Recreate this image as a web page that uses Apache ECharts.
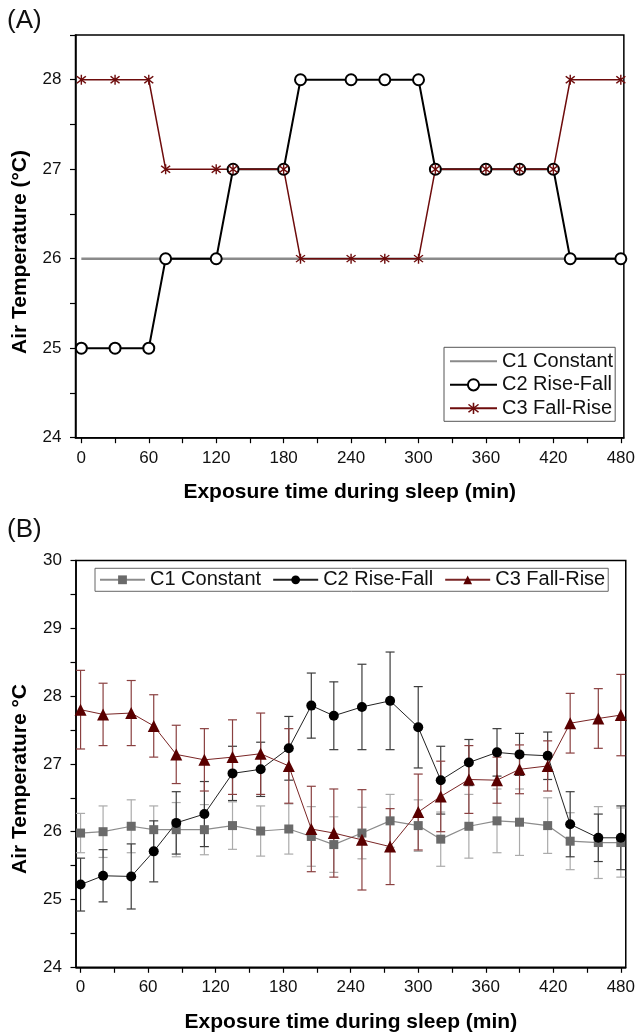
<!DOCTYPE html>
<html>
<head>
<meta charset="utf-8">
<script src="https://cdn.jsdelivr.net/npm/echarts@6/dist/echarts.min.js"></script>
<style>
html,body{margin:0;padding:0;background:#fff;}
#chart{width:638px;height:1035px;}
</style>
</head>
<body>
<div id="chart"></div>
<script>
// ---------- Panel A data (set-points) ----------
const timeA = [0, 30, 60, 75, 120, 135, 180, 195, 240, 270, 300, 315, 360, 390, 420, 435, 480];
const c1A = [26, 26, 26, 26, 26, 26, 26, 26, 26, 26, 26, 26, 26, 26, 26, 26, 26];
const c2A = [25, 25, 25, 26, 26, 27, 27, 28, 28, 28, 28, 27, 27, 27, 27, 26, 26];
const c3A = [28, 28, 28, 27, 27, 27, 27, 26, 26, 26, 26, 27, 27, 27, 27, 28, 28];

// ---------- Panel B data (measured mean and SD) ----------
const timeB = [0, 20, 45, 65, 85, 110, 135, 160, 185, 205, 225, 250, 275, 300, 320, 345, 370, 390, 415, 435, 460, 480];
const c1B = [25.98, 26.00, 26.08, 26.03, 26.03, 26.03, 26.09, 26.01, 26.04, 25.93, 25.81, 25.98, 26.16, 26.09, 25.89, 26.08, 26.16, 26.14, 26.09, 25.86, 25.84, 25.84];
const c1Err = [0.29, 0.38, 0.39, 0.35, 0.40, 0.37, 0.35, 0.37, 0.37, 0.44, 0.41, 0.38, 0.39, 0.38, 0.40, 0.47, 0.47, 0.49, 0.41, 0.42, 0.53, 0.51];
const c2B = [25.22, 25.35, 25.34, 25.71, 26.13, 26.26, 26.86, 26.92, 27.23, 27.86, 27.71, 27.84, 27.93, 27.54, 26.76, 27.02, 27.17, 27.14, 27.12, 26.11, 25.91, 25.91];
const c2Err = [0.39, 0.385, 0.48, 0.45, 0.46, 0.48, 0.40, 0.40, 0.47, 0.48, 0.50, 0.63, 0.72, 0.60, 0.50, 0.34, 0.35, 0.31, 0.35, 0.48, 0.35, 0.47];
const c3B = [27.80, 27.73, 27.75, 27.56, 27.14, 27.06, 27.10, 27.15, 26.97, 26.04, 25.98, 25.88, 25.78, 26.29, 26.52, 26.77, 26.76, 26.92, 26.97, 27.60, 27.67, 27.72];
const c3Err = [0.58, 0.46, 0.48, 0.46, 0.43, 0.46, 0.55, 0.60, 0.55, 0.63, 0.65, 0.74, 0.56, 0.56, 0.52, 0.50, 0.34, 0.36, 0.37, 0.44, 0.44, 0.60];

// ---------- ticks / labels ----------
const xTicks = [0, 30, 60, 90, 120, 150, 180, 210, 240, 270, 300, 330, 360, 390, 420, 450, 480];
const xLabels = [0, 60, 120, 180, 240, 300, 360, 420, 480];
const yTicksA = [24, 24.5, 25, 25.5, 26, 26.5, 27, 27.5, 28, 28.5];
const yLabelsA = [24, 25, 26, 27, 28];
const yTicksB = [24, 24.5, 25, 25.5, 26, 26.5, 27, 27.5, 28, 28.5, 29, 29.5, 30];
const yLabelsB = [24, 25, 26, 27, 28, 29, 30];

const seriesNames = ['C1 Constant', 'C2 Rise-Fall', 'C3 Fall-Rise'];
const bKeys = ['b1', 'b2', 'b3'];

const FONT = '"Liberation Sans", Arial, Helvetica, sans-serif';
const RED = '#6e0c0c';
const ASTERISK = 'path://M4.45 0 L5.55 0 L5.55 10 L4.45 10 Z M1.9 1.1 L8.9 8.1 L8.1 8.9 L1.1 1.9 Z M8.9 1.9 L1.9 8.9 L1.1 8.1 L8.1 1.1 Z';

function zip(xs, ys) { return xs.map((x, i) => [x, ys[i]]); }
function errData(xs, ys, es) { return xs.map((x, i) => [x, ys[i] - es[i], ys[i] + es[i]]); }
function errRenderer(color) {
  return function (params, api) {
    const x = api.value(0), lo = api.value(1), hi = api.value(2);
    const p1 = api.coord([x, hi]), p2 = api.coord([x, lo]);
    const hw = 4.5;
    const style = { stroke: color, lineWidth: 1.2, fill: null };
    return {
      type: 'group', children: [
        { type: 'line', shape: { x1: p1[0], y1: p1[1], x2: p2[0], y2: p2[1] }, style: style },
        { type: 'line', shape: { x1: p1[0] - hw, y1: p1[1], x2: p1[0] + hw, y2: p1[1] }, style: style },
        { type: 'line', shape: { x1: p2[0] - hw, y1: p2[1], x2: p2[0] + hw, y2: p2[1] }, style: style }
      ]
    };
  };
}

function xAxisCfg(grid, min, max) {
  return {
    type: 'value', gridIndex: grid, min: min, max: max,
    axisLine: { show: true, onZero: false, lineStyle: { color: '#000', width: 1.5 } },
    axisTick: { show: true, length: 5.5, customValues: xTicks, lineStyle: { color: '#000', width: 1.2 } },
    axisLabel: { customValues: xLabels, fontSize: 17, color: '#111', margin: 12, fontFamily: FONT },
    splitLine: { show: false },
    name: 'Exposure time during sleep (min)', nameLocation: 'middle', nameGap: 44,
    nameTextStyle: { fontSize: 21, fontWeight: 'bold', color: '#000', fontFamily: FONT }
  };
}
function yAxisCfg(grid, min, max, ticks, labels) {
  return {
    type: 'value', gridIndex: grid, min: min, max: max,
    axisLine: { show: true, onZero: false, lineStyle: { color: '#000', width: 1.5 } },
    axisTick: { show: true, length: 5.5, customValues: ticks, lineStyle: { color: '#000', width: 1.2 } },
    axisLabel: { customValues: labels, fontSize: 17, color: '#111', margin: 14, fontFamily: FONT },
    splitLine: { show: false }
  };
}

const chart = echarts.init(document.getElementById('chart'), null, { renderer: 'canvas' });
const option = {
  backgroundColor: '#fff',
  animation: false,
  textStyle: { fontFamily: FONT },
  grid: [
    { left: 75.5, top: 35, width: 550, height: 402.7, show: true, borderColor: '#000', borderWidth: 1.5, backgroundColor: 'transparent' },
    { left: 76, top: 560.5, width: 554, height: 406.8, show: true, borderColor: '#000', borderWidth: 1.5, backgroundColor: 'transparent' }
  ],
  xAxis: [xAxisCfg(0, -5.2, 482.7), xAxisCfg(1, -4.06, 484.4)],
  yAxis: [yAxisCfg(0, 24, 28.5, yTicksA, yLabelsA), yAxisCfg(1, 24, 30, yTicksB, yLabelsB)],
  legend: [
    {
      data: [{ name: seriesNames[0], itemStyle: { opacity: 0 } }, seriesNames[1], seriesNames[2]],
      orient: 'vertical', left: 444, top: 347.3,
      padding: [4, 2, 3, 5], itemGap: 3.5, itemWidth: 47, itemHeight: 14,
      borderColor: '#555', borderWidth: 1, backgroundColor: '#fff',
      textStyle: { fontSize: 20, lineHeight: 20, color: '#111', fontFamily: FONT },
      selectedMode: false
    },
    {
      data: bKeys, orient: 'horizontal', left: 95, top: 568.3,
      padding: [1.5, 3, 1.5, 4], itemGap: 11, itemWidth: 45, itemHeight: 11,
      borderColor: '#666', borderWidth: 1, backgroundColor: '#fff',
      formatter: function (n) { return seriesNames[bKeys.indexOf(n)]; },
      textStyle: { fontSize: 20, lineHeight: 20, color: '#111', fontFamily: FONT },
      selectedMode: false
    }
  ],
  graphic: [
    { type: 'text', left: 7, top: 8, style: { text: '(A)', fontSize: 26, fill: '#111', fontFamily: FONT } },
    { type: 'text', left: 7, top: 517, style: { text: '(B)', fontSize: 26, fill: '#111', fontFamily: FONT } },
    { type: 'text', x: 20, y: 252, rotation: Math.PI / 2,
      style: { text: 'Air Temperature (°C)', fontSize: 21, fontWeight: 'bold', fill: '#000', fontFamily: FONT, textAlign: 'center', textVerticalAlign: 'middle' } },
    { type: 'text', x: 20, y: 779, rotation: Math.PI / 2,
      style: { text: 'Air Temperature °C', fontSize: 21, fontWeight: 'bold', fill: '#000', fontFamily: FONT, textAlign: 'center', textVerticalAlign: 'middle' } }
  ],
  series: [
    // Panel A
    { name: seriesNames[0], type: 'line', xAxisIndex: 0, yAxisIndex: 0, data: zip(timeA, c1A),
      showSymbol: false, symbol: 'none', lineStyle: { color: '#8a8a8a', width: 2.5 }, itemStyle: { color: '#8a8a8a' } },
    { name: seriesNames[1], type: 'line', xAxisIndex: 0, yAxisIndex: 0, data: zip(timeA, c2A),
      symbol: 'circle', symbolSize: 11, lineStyle: { color: '#000', width: 2 },
      itemStyle: { color: '#fff', borderColor: '#000', borderWidth: 2 } },
    { name: seriesNames[2], type: 'line', xAxisIndex: 0, yAxisIndex: 0, data: zip(timeA, c3A),
      symbol: ASTERISK, symbolSize: 10, lineStyle: { color: RED, width: 1.5 },
      itemStyle: { color: RED } },
    // Panel B error bars + lines
    { name: 'e1', type: 'custom', xAxisIndex: 1, yAxisIndex: 1, data: errData(timeB, c1B, c1Err),
      renderItem: errRenderer('#ababab'), encode: { x: 0, y: [1, 2] }, silent: true },
    { name: bKeys[0], type: 'line', xAxisIndex: 1, yAxisIndex: 1, data: zip(timeB, c1B),
      symbol: 'rect', symbolSize: 9, lineStyle: { color: '#8c8c8c', width: 1.2 }, itemStyle: { color: '#6a6a6a' } },
    { name: 'e2', type: 'custom', xAxisIndex: 1, yAxisIndex: 1, data: errData(timeB, c2B, c2Err),
      renderItem: errRenderer('#3c3c3c'), encode: { x: 0, y: [1, 2] }, silent: true },
    { name: bKeys[1], type: 'line', xAxisIndex: 1, yAxisIndex: 1, data: zip(timeB, c2B),
      symbol: 'circle', symbolSize: 10, lineStyle: { color: '#222', width: 1 }, itemStyle: { color: '#000' } },
    { name: 'e3', type: 'custom', xAxisIndex: 1, yAxisIndex: 1, data: errData(timeB, c3B, c3Err),
      renderItem: errRenderer('#8a4040'), encode: { x: 0, y: [1, 2] }, silent: true },
    { name: bKeys[2], type: 'line', xAxisIndex: 1, yAxisIndex: 1, data: zip(timeB, c3B),
      symbol: 'triangle', symbolSize: 12, lineStyle: { color: '#7a2525', width: 1 }, itemStyle: { color: '#5a0000' } }
  ]
};
chart.setOption(option);
</script>
</body>
</html>
